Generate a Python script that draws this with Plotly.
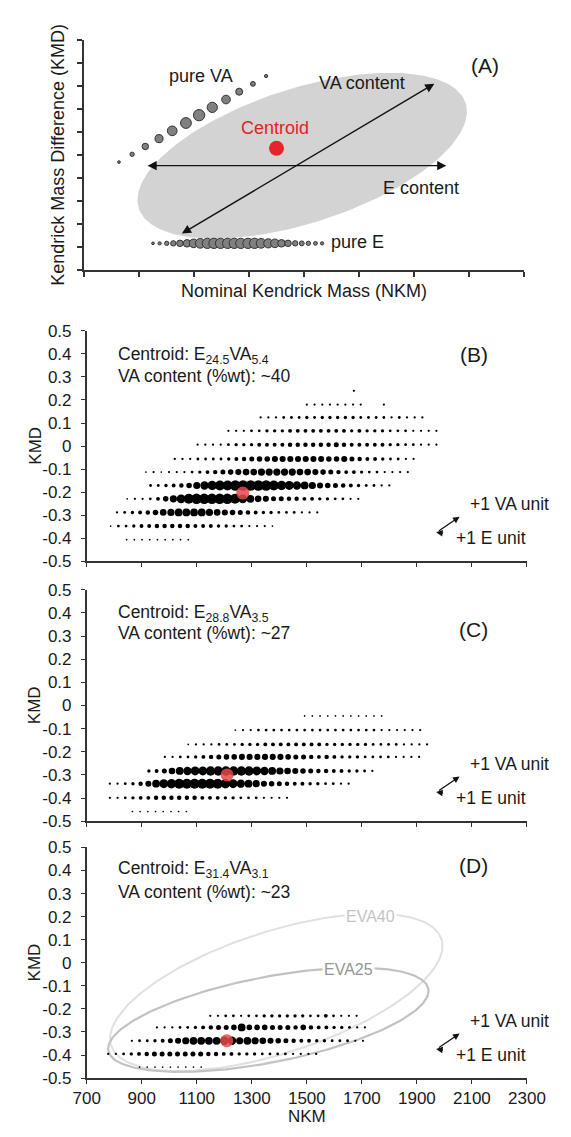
import math
import plotly.graph_objects as go

# ---------------- data ----------------
E_STEP = 28  # NKM distance between neighbouring peaks in a row (one ethylene unit)

# Panel (A) schematic
PURE_VA_X = [0.63, 0.87, 1.11, 1.36, 1.60, 1.85, 2.09, 2.33, 2.58, 2.82, 3.07, 3.31]
PURE_VA_Y = [4.70, 5.04, 5.38, 5.72, 6.06, 6.40, 6.74, 7.08, 7.42, 7.76, 8.10, 8.44]
PURE_VA_S = [2.5, 4, 6, 7.5, 9, 10, 10.5, 9.5, 8, 6.5, 4.5, 3]
PURE_E_X = [1.25, 1.37, 1.50, 1.62, 1.74, 1.87, 1.99, 2.11, 2.24, 2.36, 2.48, 2.61, 2.73,
            2.85, 2.98, 3.10, 3.22, 3.35, 3.47, 3.59, 3.71, 3.84, 3.96, 4.08, 4.21, 4.33]
PURE_E_Y = 1.17
PURE_E_S = [2.5, 3, 4, 5, 6, 7, 8, 9, 9.5, 9.5, 9.5, 9.5, 9.5, 9.5, 9.5, 9.5, 9,
            8.5, 8, 7, 6, 5, 4.5, 4, 3.5, 3]
CENTROID_A = (3.5, 5.3)

# Panel (B): KMD of each row, NKM of first peak, peak marker diameters (0 = none)
B_KMD = [0.24, 0.18, 0.124, 0.066, 0.006, -0.056, -0.113, -0.171, -0.229, -0.288, -0.347, -0.406]
B_FIRST = [1671, 1500, 1332, 1215, 1103, 1020, 915, 932, 847, 810, 787, 845]
B_PEAKS = [
    [1.5],
    [1.5, 1.5, 1.5, 1.5, 1.5, 1.5, 1.5, 1.5, 0, 0, 1.5],
    [1.5, 1.5, 1.5, 2, 2, 2, 2.5, 2, 2.5, 2.5, 2.5, 2.5, 2.5, 2, 2, 2, 2, 1.5, 2, 1.5, 1.5, 1.5],
    [1.5, 1.5, 1.5, 2, 2, 2.5, 2.5, 2.5, 3, 3, 3, 3, 3, 3, 3, 3, 2.5, 3, 2.5, 2.5, 2.5, 2, 2, 2,
     1.5, 1.5, 1.5, 1.5],
    [1.5, 1.5, 1.5, 1.5, 2, 2.5, 2.5, 2.5, 3, 3, 3, 3, 3.5, 3.5, 3.5, 3.5, 3.5, 3.5, 4, 3.5, 3,
     3, 3, 3, 3, 2.5, 2.5, 2, 2, 1.5, 1.5, 1.5],
    [1.5, 1.5, 1.5, 2, 2, 2, 2, 2.5, 3, 3.5, 4, 4.5, 4.5, 5, 5, 5, 5, 5, 5, 5, 4.5, 4.5, 5, 4,
     3.5, 3, 3, 2.5, 2, 2, 1.5, 1.5],
    [1, 1.5, 1, 1.5, 1.5, 1.5, 2, 2.5, 3, 3.5, 4, 4.5, 5, 5.5, 5.5, 6, 6, 6, 6, 6, 5.5, 5.5, 5,
     4.5, 4, 3.5, 3, 3, 2.5, 2, 2, 1.5, 1.5, 1.5, 1.5],
    [2, 2, 2.5, 3, 3.5, 4.5, 6, 7, 8, 8.5, 8.5, 9, 9, 9, 9, 9, 8.5, 8, 7.5, 7, 6.5, 6, 5, 4.5,
     4, 3.5, 3, 2.5, 2, 2, 1.5, 1.5],
    [1, 1.5, 1.5, 2, 3, 4.5, 6, 7.5, 8.5, 9, 9, 9, 9, 9, 8.5, 7.5, 6.5, 5.5, 5, 4, 4, 3.5, 3.5,
     3, 3, 2.5, 2.5, 2, 2, 1.5, 1.5],
    [1.5, 2, 2.5, 3, 3.5, 4.5, 5.5, 6, 6.5, 6.5, 6.5, 6.5, 6, 5.5, 5, 4.5, 4, 3.5, 3, 2.5, 2.5,
     2, 2, 2, 1.5, 1.5, 1.5],
    [1, 2, 2, 2.5, 3, 3, 3.5, 3.5, 3.5, 3.5, 3.5, 3, 3, 3, 2.5, 2.5, 2, 2, 1.5, 1.5, 1.5, 1],
    [1, 1, 1, 1, 1, 1, 1, 1, 1],
]
B_CENTROID = (1267, -0.204)

# Panel (C)
C_KMD = [-0.045, -0.106, -0.168, -0.222, -0.283, -0.338, -0.399, -0.458]
C_FIRST = [1492, 1240, 1069, 984, 926, 784, 784, 866]
C_PEAKS = [
    [1, 1, 1, 1, 1, 1, 1, 1, 1, 1, 1],
    [1, 1.5, 1.5, 2, 2, 2, 2, 2, 2, 2, 2, 2, 2, 2, 2, 2, 2, 2, 2, 1.5, 1.5, 1.5, 1.5, 1.5, 1.5],
    [1, 1.5, 1.5, 1.5, 2, 2, 2, 2.5, 2.5, 2.5, 3, 3, 3, 3, 3, 3, 3, 3, 2.5, 2.5, 2.5, 2.5, 2.5,
     2.5, 2, 2, 2, 2, 1.5, 1.5, 1.5, 1.5],
    [1.5, 1.5, 2, 2, 2.5, 3, 3.5, 4, 4.5, 4.5, 5, 5, 5, 5, 5, 5, 4.5, 4, 4, 3.5, 3, 3.5, 3, 2.5,
     2.5, 2.5, 2, 2, 2, 2, 1.5, 1.5, 1.5, 1.5],
    [2.5, 3, 4, 5.5, 6.5, 7, 7.5, 7.5, 8, 8, 8, 8, 8, 8, 7.5, 7, 6.5, 6, 5.5, 5, 4.5, 4, 3.5,
     3.5, 3, 3, 2.5, 2.5, 2, 1.5],
    [1.5, 1.5, 2, 2.5, 3.5, 5, 6.5, 7.5, 8, 8.5, 8.5, 8.5, 8.5, 8.5, 8.5, 8, 7.5, 7, 6.5, 6, 5,
     4.5, 4, 3.5, 3, 3, 2.5, 2.5, 2, 2, 1.5, 1.5],
    [1.5, 1.5, 2, 2.5, 3, 3, 3.5, 3.5, 3.5, 3.5, 3.5, 3.5, 3, 3, 3, 2.5, 2.5, 2, 2, 2, 1.5, 1.5,
     1.5, 1.5],
    [1, 1, 1, 1, 1, 1, 1, 1],
]
C_CENTROID = (1210, -0.30)

# Panel (D)
D_KMD = [-0.23, -0.28, -0.338, -0.395, -0.452]
D_FIRST = [1149, 955, 864, 778, 892]
D_PEAKS = [
    [1.5, 1.5, 2, 2, 1.5, 2, 2, 2.5, 2.5, 2.5, 2.5, 2.5, 2.5, 2, 2, 3, 2, 1.5, 1.5, 1.5],
    [1.5, 1.5, 1.5, 2, 2, 2.5, 3, 3.5, 4, 4, 4.5, 6.5, 4.5, 4.5, 4.5, 4, 4, 4, 3.5, 4.5, 3.5, 3,
     3, 2.5, 2.5, 2, 1.5, 1.5],
    [1.5, 2, 2, 2.5, 3, 4, 5, 6, 6.5, 6.5, 6.5, 6.5, 7, 7, 6, 6.5, 6, 5.5, 5, 4.5, 4, 3.5, 3, 3,
     2.5, 2.5, 2, 2, 2, 1.5, 1.5],
    [1.5, 1.5, 2, 2.5, 3, 3.5, 4, 4, 4, 4, 4, 4, 4, 3.5, 3.5, 3, 3, 2.5, 2.5, 2.5, 2, 2, 2, 2,
     1.5, 1.5, 1.5, 1.5],
    [1, 1, 1, 1, 1, 1, 1, 1, 1],
]
D_CENTROID = (1209, -0.338)

# Reference ellipses in (D): centre NKM, centre KMD, label
EVA_NAMES = ["EVA40", "EVA25"]
EVA_CENTER_NKM = [1389, 1360]
EVA_CENTER_KMD = [-0.128, -0.247]
EVA_LABEL_NKM = [1730, 1651]
EVA_LABEL_KMD = [0.20, -0.029]

PANEL_TEXT = [
    ("B", "Centroid: E<sub>24.5</sub>VA<sub>5.4</sub>", "VA content (%wt): ~40"),
    ("C", "Centroid: E<sub>28.8</sub>VA<sub>3.5</sub>", "VA content (%wt): ~27"),
    ("D", "Centroid: E<sub>31.4</sub>VA<sub>3.1</sub>", "VA content (%wt): ~23"),
]
Y_TICKS = [0.5, 0.4, 0.3, 0.2, 0.1, 0, -0.1, -0.2, -0.3, -0.4, -0.5]
Y_TICKTEXT = ["0.5", "0.4", "0.3", "0.2", "0.1", "0", "-0.1", "-0.2", "-0.3", "-0.4", "-0.5"]
X_TICKS = [700, 900, 1100, 1300, 1500, 1700, 1900, 2100, 2300]

# ---------------- layout geometry ----------------
W, H = 571, 1137
FONT = "Liberation Sans, Arial, sans-serif"
AX_COLOR = "#333333"
TXT = "#1a1a1a"

def pd(top, bottom):
    return [1 - bottom / H, 1 - top / H]

XDOM_A = [74.7 / W, 540.8 / W]
XDOM = [77.2 / W, 544.4 / W]
YDOM = {"A": pd(31.7, 265.7), "B": pd(327.3, 561.7), "C": pd(590.7, 826.0), "D": pd(852.7, 1087.3)}

PX_PER_NKM = (544.4 - 77.2) / 1600.0
PX_PER_KMD = 234.6
DOT_SCALE = 1.1   # rendering scale of peak markers
DOT_PAD = 0.6     # rendering pad so the smallest peaks stay visible


def rows_to_points(kmds, firsts, peaks):
    xs, ys, ss = [], [], []
    for k, f, pk in zip(kmds, firsts, peaks):
        for i, s in enumerate(pk):
            if s > 0:
                xs.append(f + E_STEP * i)
                ys.append(k)
                ss.append(s * DOT_SCALE + DOT_PAD)
    return xs, ys, ss


def ellipse(cx, cy, a_px, b_px, ang_deg, sx, sy, n=240):
    th = math.radians(ang_deg)
    xs, ys = [], []
    for i in range(n + 1):
        t = 2 * math.pi * i / n
        dx = a_px * math.cos(th) * math.cos(t) - b_px * math.sin(th) * math.sin(t)
        dy = a_px * math.sin(th) * math.cos(t) + b_px * math.cos(th) * math.sin(t)
        xs.append(cx + dx / sx)
        ys.append(cy + dy / sy)
    return xs, ys


fig = go.Figure()

# ---------- Panel A ----------
ex, ey = ellipse(3.968, 4.979, 181.5, 68.7, 16.9, 58.26, 23.4)
fig.add_trace(go.Scatter(x=ex, y=ey, mode="lines", fill="toself", fillcolor="#d3d3d3",
                         line=dict(width=0, color="#d3d3d3"), hoverinfo="skip",
                         xaxis="x", yaxis="y"))
fig.add_trace(go.Scatter(x=PURE_VA_X, y=PURE_VA_Y, mode="markers",
                         marker=dict(size=[s * 1.08 for s in PURE_VA_S], color="#808080", opacity=1,
                                     line=dict(color="#333333", width=1)),
                         xaxis="x", yaxis="y", cliponaxis=False))
fig.add_trace(go.Scatter(x=PURE_E_X, y=[PURE_E_Y] * len(PURE_E_X), mode="markers",
                         marker=dict(size=[s * 1.08 for s in PURE_E_S], color="#808080", opacity=1,
                                     line=dict(color="#333333", width=1)),
                         xaxis="x", yaxis="y", cliponaxis=False))
fig.add_trace(go.Scatter(x=[CENTROID_A[0]], y=[CENTROID_A[1]], mode="markers",
                         marker=dict(size=15, color="#e3262b", opacity=1), xaxis="x", yaxis="y"))

annotations = []
for (x0, y0, x1, y1) in [(1.124, 4.547, 6.593, 4.547), (1.749, 1.556, 6.375, 8.107)]:
    annotations.append(dict(x=x1, y=y1, ax=x0, ay=y0, xref="x", yref="y", axref="x", ayref="y",
                            text="", showarrow=True, arrowhead=2, startarrowhead=2,
                            arrowside="end+start", arrowsize=1.3, startarrowsize=1.3,
                            arrowwidth=1.4, arrowcolor="#111"))
for txt, x, y, col, sz in [("pure VA", 2.125, 8.435, TXT, 18), ("VA content", 5.062, 8.15, TXT, 18),
                           ("Centroid", 3.469, 6.197, "#e02424", 18),
                           ("E content", 6.125, 3.59, TXT, 18), ("pure E", 4.969, 1.24, TXT, 18),
                           ("(A)", 7.3, 8.9, TXT, 21)]:
    annotations.append(dict(x=x, y=y, xref="x", yref="y", text=txt, showarrow=False,
                            font=dict(family=FONT, size=sz, color=col),
                            xanchor="center", yanchor="middle"))

# ---------- Panels B, C, D ----------
panels = [("B", B_KMD, B_FIRST, B_PEAKS, B_CENTROID),
          ("C", C_KMD, C_FIRST, C_PEAKS, C_CENTROID),
          ("D", D_KMD, D_FIRST, D_PEAKS, D_CENTROID)]
text_y = {"B": (0.393, 0.304, 0.396), "C": (0.397, 0.312, 0.33), "D": (0.405, 0.306, 0.423)}

for idx, (name, kmd, first, peaks, cen) in enumerate(panels):
    xa = "x%d" % (idx + 2)
    ya = "y%d" % (idx + 2)
    if name == "D":
        ell_params = [(183.5, 62.2, 16.95, "#e0e0e0", 2.0), (172.7, 43.5, 10.45, "#c2c2c2", 2.2)]
        for j, (a, b, ang, col, lw) in enumerate(ell_params):
            ex, ey = ellipse(EVA_CENTER_NKM[j], EVA_CENTER_KMD[j], a, b, ang, PX_PER_NKM, PX_PER_KMD)
            fig.add_trace(go.Scatter(x=ex, y=ey, mode="lines", line=dict(color=col, width=lw),
                                     hoverinfo="skip", xaxis=xa, yaxis=ya, cliponaxis=False))
    xs, ys, ss = rows_to_points(kmd, first, peaks)
    fig.add_trace(go.Scatter(x=xs, y=ys, mode="markers",
                             marker=dict(size=ss, color="#000000", opacity=1, line=dict(width=0)),
                             xaxis=xa, yaxis=ya))
    fig.add_trace(go.Scatter(x=[cen[0]], y=[cen[1]], mode="markers",
                             marker=dict(size=13, color="rgba(232,72,72,0.85)", opacity=1,
                                         line=dict(width=0)),
                             xaxis=xa, yaxis=ya))
    _, l1, l2 = PANEL_TEXT[idx]
    t1, t2, tl = text_y[name]
    for txt, y in [(l1, t1), (l2, t2)]:
        annotations.append(dict(x=806, y=y, xref=xa, yref=ya, text=txt, showarrow=False,
                                font=dict(family=FONT, size=17.5, color=TXT),
                                xanchor="left", yanchor="middle"))
    annotations.append(dict(x=2107, y=tl, xref=xa, yref=ya, text="(%s)" % name, showarrow=False,
                            font=dict(family=FONT, size=21, color=TXT),
                            xanchor="center", yanchor="middle"))
    # unit vectors
    annotations.append(dict(x=2055, y=-0.307, ax=1975, ay=-0.372, xref=xa, yref=ya,
                            axref=xa, ayref=ya, text="", showarrow=True, arrowhead=2,
                            arrowsize=1.0, arrowwidth=1.3, arrowcolor="#111"))
    annotations.append(dict(x=1970, y=-0.374, ax=2000, ay=-0.379, xref=xa, yref=ya,
                            axref=xa, ayref=ya, text="", showarrow=True, arrowhead=2,
                            arrowsize=1.0, arrowwidth=1.3, arrowcolor="#111"))
    annotations.append(dict(x=2085, y=-0.252, xref=xa, yref=ya, text="+1 VA unit",
                            showarrow=False, font=dict(family=FONT, size=17.5, color=TXT),
                            xanchor="left", yanchor="middle"))
    annotations.append(dict(x=2034, y=-0.400, xref=xa, yref=ya, text="+1 E unit",
                            showarrow=False, font=dict(family=FONT, size=17.5, color=TXT),
                            xanchor="left", yanchor="middle"))
    if name == "D":
        for j, col in enumerate(["#c4c4c4", "#959595"]):
            annotations.append(dict(x=EVA_LABEL_NKM[j], y=EVA_LABEL_KMD[j], xref=xa, yref=ya,
                                    text=EVA_NAMES[j], showarrow=False, bgcolor="white",
                                    font=dict(family=FONT, size=16, color=col),
                                    xanchor="center", yanchor="middle", borderpad=1))
    # KMD axis title
    ymid = (YDOM[name][0] + YDOM[name][1]) / 2
    annotations.append(dict(x=21.9 / W, y=ymid, xref="paper", yref="paper", text="KMD",
                            textangle=-90, showarrow=False,
                            font=dict(family=FONT, size=17, color=TXT),
                            xanchor="center", yanchor="middle"))

# Panel A axis titles
annotations.append(dict(x=47.3 / W, y=(YDOM["A"][0] + YDOM["A"][1]) / 2, xref="paper", yref="paper",
                        text="Kendrick Mass Difference (KMD)", textangle=-90, showarrow=False,
                        font=dict(family=FONT, size=18, color=TXT), xanchor="center", yanchor="middle"))
annotations.append(dict(x=(XDOM_A[0] + XDOM_A[1]) / 2, y=1 - 287.0 / H, xref="paper", yref="paper",
                        text="Nominal Kendrick Mass (NKM)", showarrow=False,
                        font=dict(family=FONT, size=18, color=TXT), xanchor="center", yanchor="middle"))
annotations.append(dict(x=(XDOM[0] + XDOM[1]) / 2, y=1 - 1126.7 / H, xref="paper", yref="paper",
                        text="NKM", showarrow=False,
                        font=dict(family=FONT, size=17, color=TXT), xanchor="center", yanchor="middle"))

axis_common = dict(showgrid=False, zeroline=False, showline=True, linecolor=AX_COLOR,
                   ticks="outside", tickcolor=AX_COLOR, mirror=False)

layout = dict(
    width=W, height=H, margin=dict(l=0, r=0, t=0, b=0),
    paper_bgcolor="white", plot_bgcolor="white", showlegend=False,
    font=dict(family=FONT, size=17, color=TXT),
    annotations=annotations,
    xaxis=dict(domain=XDOM_A, range=[0, 8], tick0=0, dtick=1, showticklabels=False,
               linewidth=2, ticklen=5, tickwidth=1.5, anchor="y", **axis_common),
    yaxis=dict(domain=YDOM["A"], range=[0, 10], tick0=0, dtick=1, showticklabels=False,
               linewidth=2, ticklen=5, tickwidth=1.5, anchor="x", **axis_common),
)
for idx, name in enumerate(["B", "C", "D"]):
    n = idx + 2
    layout["xaxis%d" % n] = dict(domain=XDOM, range=[700, 2300], tickvals=X_TICKS,
                                 ticktext=[str(v) for v in X_TICKS],
                                 showticklabels=(name == "D"), linewidth=1.6, ticklen=4,
                                 tickwidth=1.3, anchor="y%d" % n,
                                 tickfont=dict(family=FONT, size=17, color=TXT), **axis_common)
    layout["yaxis%d" % n] = dict(domain=YDOM[name], range=[-0.5, 0.5], tickvals=Y_TICKS,
                                 ticktext=Y_TICKTEXT, linewidth=1.6, ticklen=4, tickwidth=1.3,
                                 anchor="x%d" % n, ticklabelstandoff=6,
                                 tickfont=dict(family=FONT, size=17, color=TXT), **axis_common)

fig.update_layout(**layout)
fig.write_html("out.html")
